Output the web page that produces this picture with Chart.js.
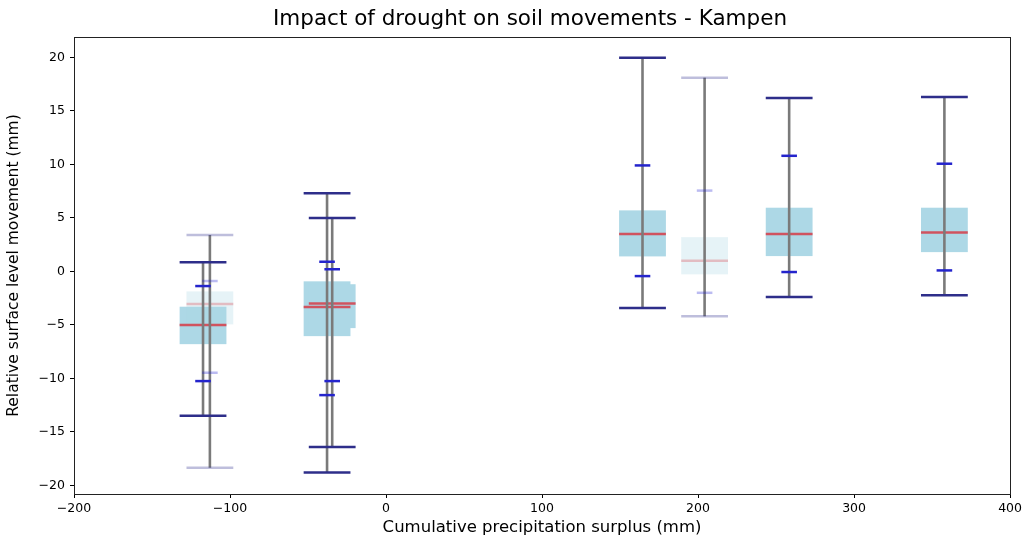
<!DOCTYPE html>
<html>
<head>
<meta charset="utf-8">
<script src="https://cdn.jsdelivr.net/npm/chart.js@4.4.1/dist/chart.umd.min.js"></script>
<style>
  html, body { margin: 0; padding: 0; background: #fff; }
  #wrap { width: 1025px; height: 542px; }
</style>
</head>
<body>
<div id="wrap"><canvas id="chart"></canvas></div>
<script>
// x position (cumulative precipitation surplus, mm) of each box
const centers = [-117.3, -112.9, -37.8, -34.5, 164.4, 204.2, 258.4, 357.9];
// faded boxes are drawn with transparency
const faded   = [false, true, false, false, false, true, false, false];
const mins    = [-13.5, -18.35, -18.8, -16.4, -3.43, -4.2, -2.4, -2.24];
const p10s    = [-10.25, -9.47, -11.56, -10.25, -0.44, -2.0, -0.06, 0.09];
const q1s     = [-6.8, -4.95, -6.05, -5.3, 1.4, -0.28, 1.43, 1.8];
const medians = [-5.0, -3.05, -3.33, -3.0, 3.5, 1.0, 3.49, 3.64];
const q3s     = [-3.3, -1.87, -0.93, -1.2, 5.7, 3.2, 5.95, 5.95];
const p90s    = [-1.37, -0.9, 0.9, 0.2, 9.9, 7.55, 10.8, 10.06];
const maxs    = [0.85, 3.4, 7.3, 4.98, 19.95, 18.1, 16.2, 16.3];

const xTicks = [-200, -100, 0, 100, 200, 300, 400];
const yTicks = [-20, -15, -10, -5, 0, 5, 10, 15, 20];

const TITLE = 'Impact of drought on soil movements - Kampen';
const BOX_W = 30;   // box width in x units
const TICK_W = 10;  // percentile mark width in x units

const minus = v => String(v).replace('-', '\u2212');

const boxPlugin = {
  id: 'boxes',
  beforeDatasetsDraw(chart) {
    const { ctx, scales: { x, y }, chartArea } = chart;
    ctx.save();
    ctx.beginPath();
    ctx.rect(chartArea.left, chartArea.top, chartArea.width, chartArea.height);
    ctx.clip();

    // boxes
    centers.forEach((c, i) => {
      const l = x.getPixelForValue(c - BOX_W / 2);
      const r = x.getPixelForValue(c + BOX_W / 2);
      const t = y.getPixelForValue(q3s[i]);
      const b = y.getPixelForValue(q1s[i]);
      ctx.fillStyle = faded[i] ? 'rgba(173,216,230,0.3)' : '#add8e6';
      ctx.fillRect(l, t, r - l, b - t);
    });

    const hline = (c, v, half, color, w) => {
      ctx.strokeStyle = color;
      ctx.lineWidth = w;
      ctx.beginPath();
      ctx.moveTo(x.getPixelForValue(c - half), y.getPixelForValue(v));
      ctx.lineTo(x.getPixelForValue(c + half), y.getPixelForValue(v));
      ctx.stroke();
    };

    // medians
    centers.forEach((c, i) => {
      hline(c, medians[i], BOX_W / 2, faded[i] ? 'rgba(214,60,70,0.3)' : 'rgba(214,60,70,0.85)', 2.5);
    });

    // whiskers
    centers.forEach((c, i) => {
      const px = x.getPixelForValue(c);
      ctx.strokeStyle = '#7a7a7a';
      ctx.lineWidth = 2.6;
      ctx.beginPath();
      ctx.moveTo(px, y.getPixelForValue(mins[i]));
      ctx.lineTo(px, y.getPixelForValue(maxs[i]));
      ctx.stroke();
    });

    // caps and percentile marks
    centers.forEach((c, i) => {
      const capCol = faded[i] ? 'rgba(40,40,140,0.3)' : '#2e2e8a';
      const tickCol = faded[i] ? 'rgba(30,30,210,0.3)' : '#2424cc';
      hline(c, mins[i], BOX_W / 2, capCol, 2.5);
      hline(c, maxs[i], BOX_W / 2, capCol, 2.5);
      hline(c, p10s[i], TICK_W / 2, tickCol, 2.5);
      hline(c, p90s[i], TICK_W / 2, tickCol, 2.5);
    });
    ctx.restore();
  },
  afterDraw(chart) {
    const { ctx, chartArea: a } = chart;
    ctx.save();
    ctx.strokeStyle = '#222';
    ctx.lineWidth = 1;
    ctx.strokeRect(Math.round(a.left) + 0.5, Math.round(a.top) + 0.5,
                   Math.round(a.width), Math.round(a.height));
    // title
    ctx.fillStyle = '#000';
    ctx.font = '21.5px "DejaVu Sans"';
    ctx.textAlign = 'center';
    ctx.textBaseline = 'middle';
    ctx.fillText(TITLE, 530, 19);
    ctx.restore();
  }
};

const tickFont = { family: 'DejaVu Sans', size: 12.5 };
const titleFont = { family: 'DejaVu Sans', size: 16.5 };

new Chart(document.getElementById('chart'), {
  type: 'scatter',
  data: { datasets: [{ data: [], pointRadius: 0 }] },
  options: {
    responsive: true,
    maintainAspectRatio: false,
    animation: false,
    layout: { padding: { left: 0, right: 13, top: 37, bottom: 0 } },
    plugins: {
      legend: { display: false },
      tooltip: { enabled: false },
      title: { display: false }
    },
    scales: {
      x: {
        type: 'linear',
        min: -200,
        max: 400,
        afterBuildTicks: s => { s.ticks = xTicks.map(v => ({ value: v })); },
        afterFit: s => { s.height = 48; },
        ticks: { color: '#000', font: tickFont, maxRotation: 0, padding: 3, callback: minus },
        grid: { drawOnChartArea: false, color: '#000', tickLength: 4 },
        border: { display: false },
        title: { display: true, text: 'Cumulative precipitation surplus (mm)', color: '#000', font: titleFont, padding: { top: 1 } }
      },
      y: {
        type: 'linear',
        min: -20.8,
        max: 21.9,
        afterBuildTicks: s => { s.ticks = yTicks.map(v => ({ value: v })); },
        afterFit: s => { s.width = 74; },
        ticks: { color: '#000', font: tickFont, padding: 5, callback: minus },
        grid: { drawOnChartArea: false, color: '#000', tickLength: 4 },
        border: { display: false },
        title: { display: true, text: 'Relative surface level movement (mm)', color: '#000', font: { family: 'DejaVu Sans', size: 15.5 }, padding: { top: 5, bottom: 0 } }
      }
    }
  },
  plugins: [boxPlugin]
});
</script>
</body>
</html>
